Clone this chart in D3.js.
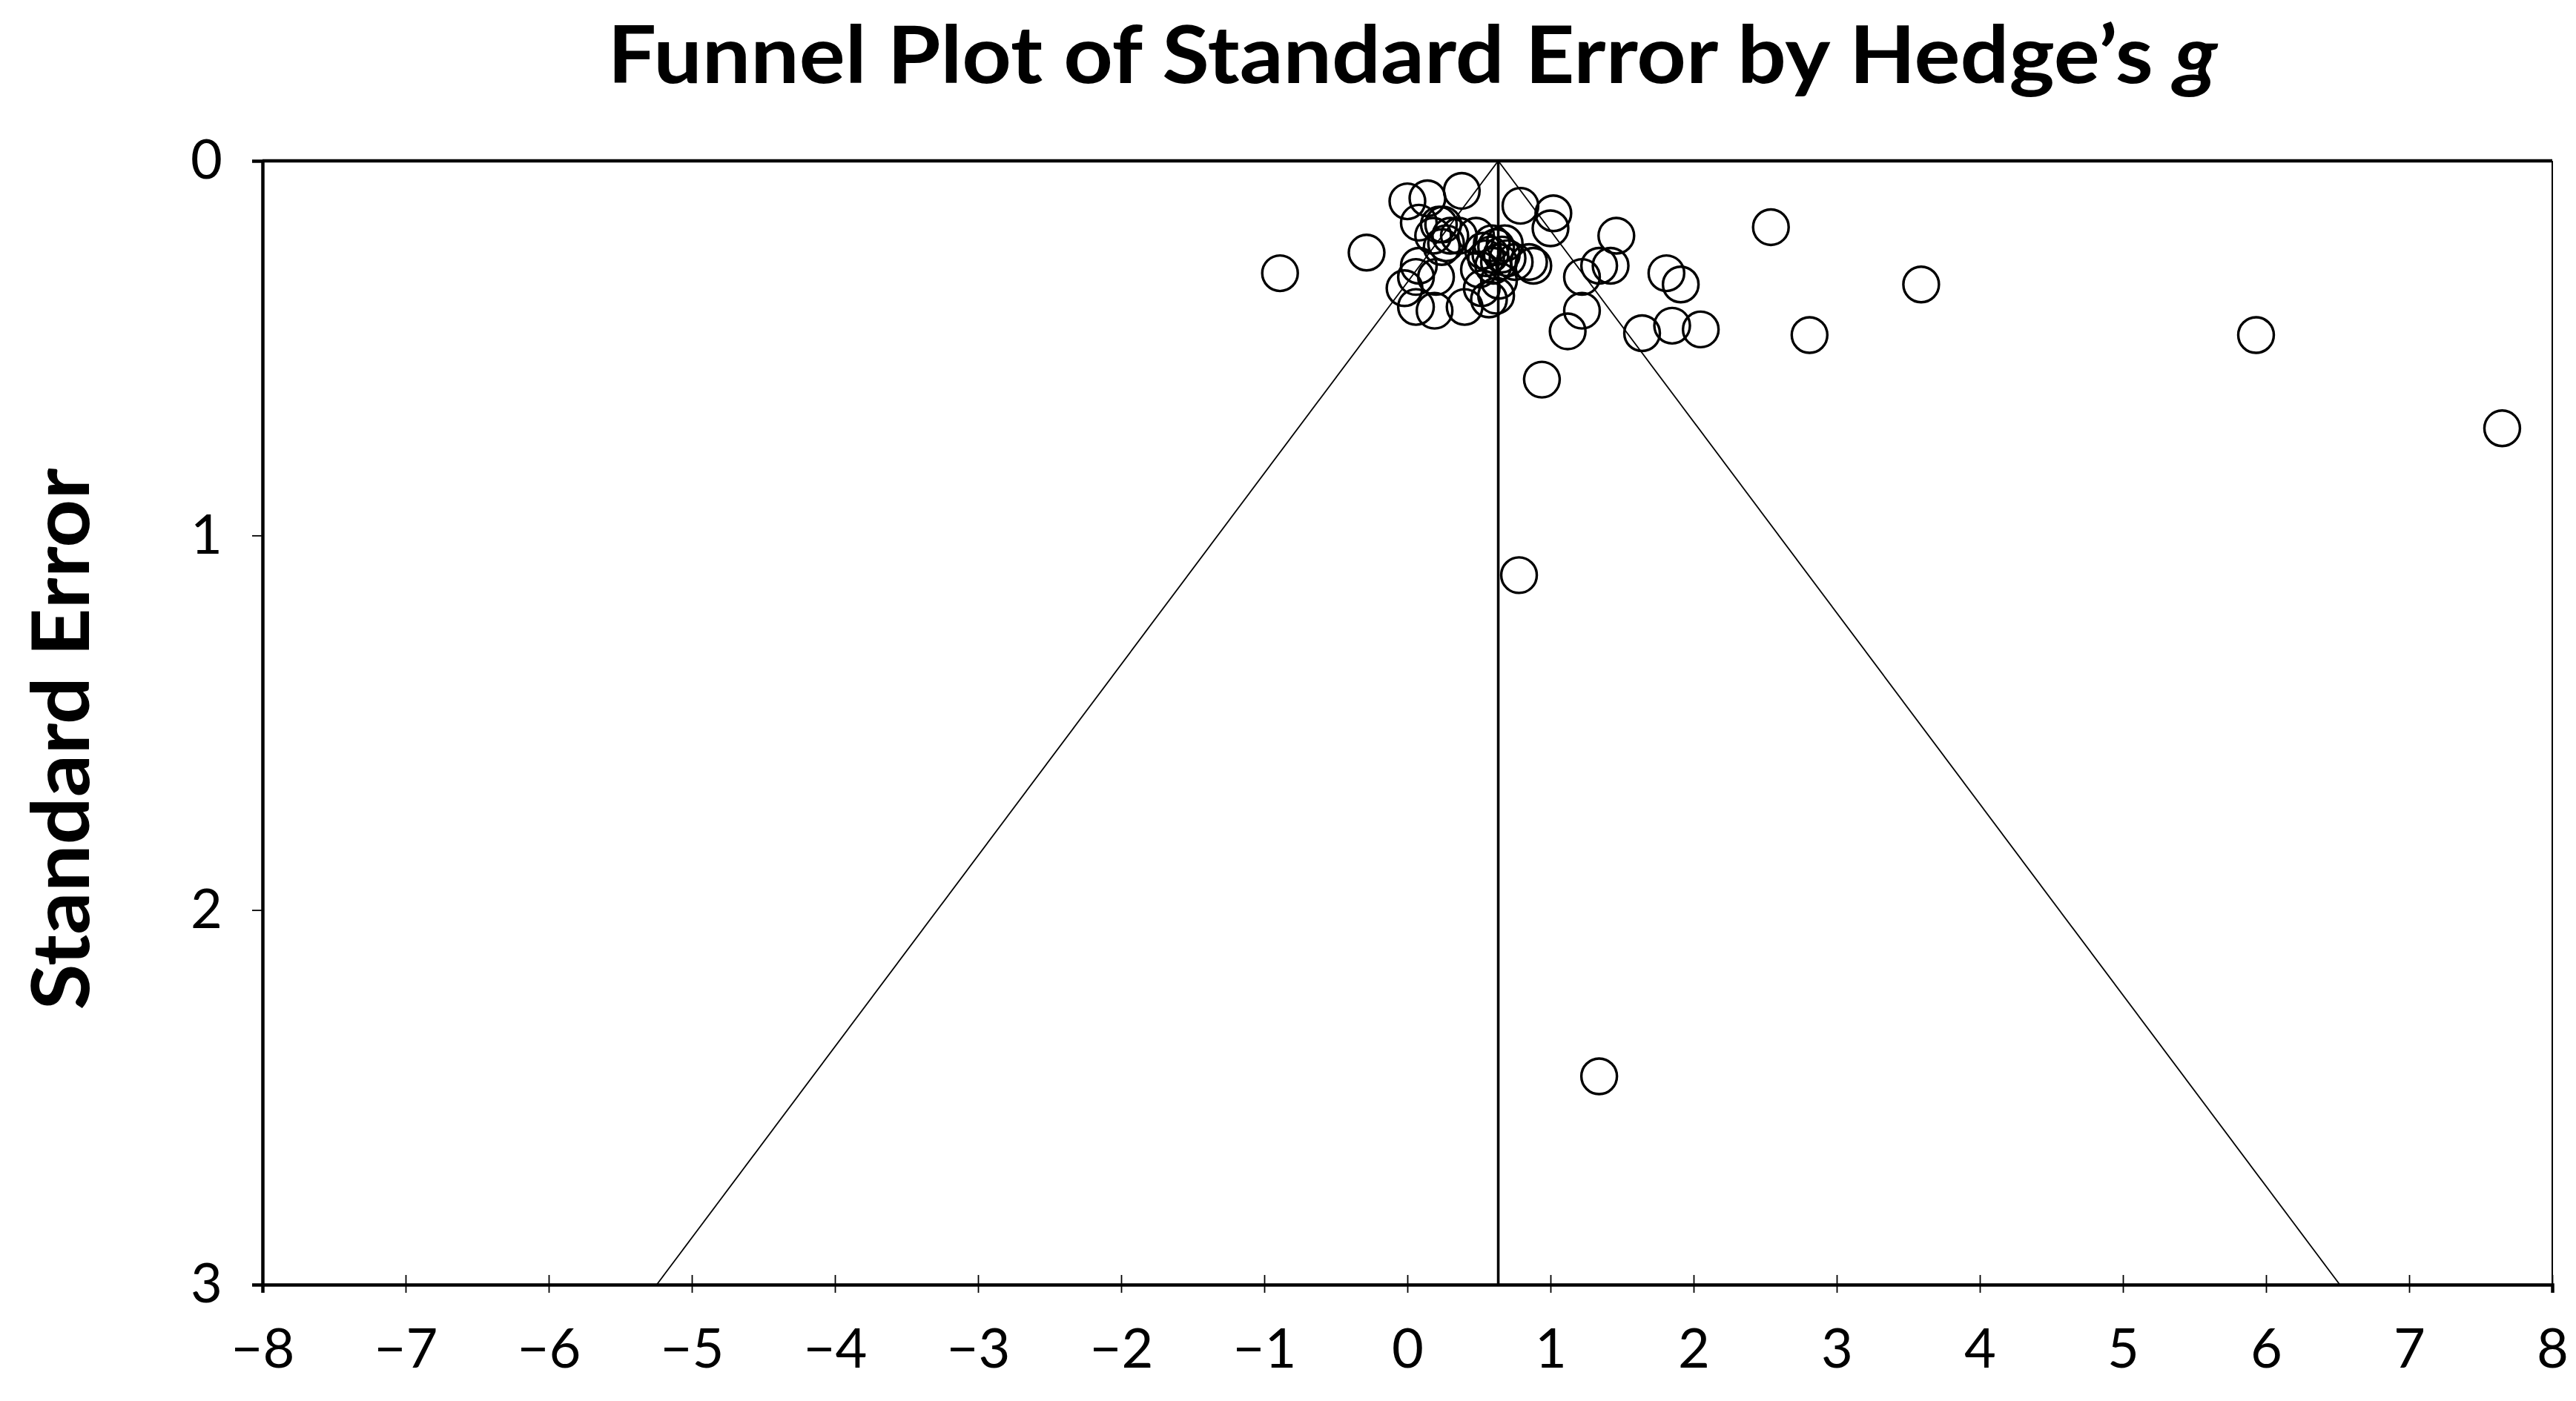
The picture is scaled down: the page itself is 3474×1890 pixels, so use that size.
<!DOCTYPE html>
<html>
<head>
<meta charset="utf-8">
<script src="https://cdn.jsdelivr.net/npm/d3@7"></script>
<style>
  html, body { margin: 0; padding: 0; background: #fff; }
  svg { display: block; }
</style>
</head>
<body>
<svg id="chart" width="3474" height="1890"></svg>
<script>
// ---- data (Hedge's g, standard error) ----
const effectSizes = [
  -0.89, -0.285, 2.54, 3.59, 5.93, 7.65, 2.81, 0.94, 0.78, 1.34,
  1.64, 1.85, 2.05, 1.81, 1.91, 1.46, 1.42, 1.34, 1.22, 1.22, 1.12,
  0.79, 1.02, 1.00, 0.88,
  0.00, 0.14, 0.38, 0.08, 0.22, 0.18, 0.27, 0.36, 0.48, 0.59, 0.68,
  0.55, 0.64, 0.50, 0.08, 0.06, 0.20, -0.02, 0.06, 0.19, 0.40, 0.57,
  0.62, 0.52, 0.64, 0.70, 0.75, 0.62, 0.85,
  0.58, 0.66, 0.60, 0.53, 0.25, 0.30, 0.24
];
const standardErrors = [
  0.30, 0.245, 0.177, 0.33, 0.465, 0.714, 0.465, 0.584, 1.106, 2.444,
  0.46, 0.44, 0.45, 0.30, 0.33, 0.20, 0.28, 0.28, 0.31, 0.40, 0.455,
  0.12, 0.14, 0.18, 0.28,
  0.108, 0.10, 0.08, 0.165, 0.17, 0.20, 0.22, 0.20, 0.20, 0.22, 0.22,
  0.26, 0.27, 0.29, 0.28, 0.31, 0.31, 0.34, 0.39, 0.40, 0.39, 0.37,
  0.36, 0.34, 0.32, 0.26, 0.27, 0.23, 0.27,
  0.25, 0.25, 0.28, 0.24, 0.17, 0.20, 0.23
];
const pooledEffect = 0.635;
const zCrit = 1.96;
const xTicks = [-8,-7,-6,-5,-4,-3,-2,-1,0,1,2,3,4,5,6,7,8];
const yTicks = [0,1,2,3];
const xDomain = [-8, 8];
const yDomain = [0, 3];

// ---- layout ----
const svg = d3.select("#chart");
const L = 354, R = 3442, T = 217, B = 1733;
const x = d3.scaleLinear().domain(xDomain).range([L, R]);
const y = d3.scaleLinear().domain(yDomain).range([T, B]);
const fmt = d => (d < 0 ? "\u2212" + Math.abs(d) : String(d));
const FONT = "Lato, 'Open Sans', 'DejaVu Sans', sans-serif";

// Title
const title = svg.append("text")
  .attr("x", 1905).attr("y", 112)
  .attr("text-anchor", "middle")
  .attr("font-family", FONT).attr("font-weight", 700)
  .attr("font-size", 108)
  .attr("textLength", 2171).attr("lengthAdjust", "spacingAndGlyphs")
  .attr("fill", "#000");
title.append("tspan").text("Funnel Plot of Standard Error by Hedge\u2019s ");
title.append("tspan").attr("font-style", "italic").text("g");

// Y axis label
svg.append("text")
  .attr("transform", "translate(120,997) rotate(-90)")
  .attr("text-anchor", "middle")
  .attr("font-family", FONT).attr("font-weight", 700)
  .attr("font-size", 108)
  .attr("textLength", 731).attr("lengthAdjust", "spacingAndGlyphs")
  .attr("fill", "#000")
  .text("Standard Error");

// Funnel lines
const funnel = svg.append("g").attr("fill", "none").attr("stroke", "#000");
funnel.append("line")
  .attr("x1", x(pooledEffect)).attr("y1", y(0))
  .attr("x2", x(pooledEffect - zCrit * yDomain[1])).attr("y2", y(yDomain[1]))
  .attr("stroke-width", 1.8);
funnel.append("line")
  .attr("x1", x(pooledEffect)).attr("y1", y(0))
  .attr("x2", x(pooledEffect + zCrit * yDomain[1])).attr("y2", y(yDomain[1]))
  .attr("stroke-width", 1.8);
funnel.append("line")
  .attr("x1", x(pooledEffect)).attr("y1", y(0))
  .attr("x2", x(pooledEffect)).attr("y2", y(yDomain[1]))
  .attr("stroke-width", 3.6);

// Points
svg.append("g")
  .selectAll("circle")
  .data(effectSizes.map((g, i) => ({ g, se: standardErrors[i] })))
  .join("circle")
  .attr("cx", d => x(d.g))
  .attr("cy", d => y(d.se))
  .attr("r", 24)
  .attr("fill", "none")
  .attr("stroke", "#000")
  .attr("stroke-width", 3.4);

// Frame
svg.append("line").attr("x1", R).attr("y1", T).attr("x2", R).attr("y2", B)
  .attr("stroke", "#000").attr("stroke-width", 2);

// X axis
const xAxis = svg.append("g")
  .attr("transform", `translate(0,${B})`)
  .call(d3.axisBottom(x).tickValues(xTicks).tickFormat(fmt).tickSize(11).tickPadding(48));
xAxis.select(".domain").attr("stroke-width", 4.5);
xAxis.selectAll(".tick line").attr("y1", -13).attr("y2", 11).attr("stroke-width", 1.8);
xAxis.selectAll(".tick text")
  .attr("font-family", FONT).attr("font-size", 74).attr("fill", "#000");

// Y axis
const yAxis = svg.append("g")
  .attr("transform", `translate(${L},0)`)
  .call(d3.axisLeft(y).tickValues(yTicks).tickFormat(fmt).tickSize(14).tickPadding(40));
yAxis.select(".domain").attr("stroke-width", 4.5);
yAxis.selectAll(".tick line").attr("stroke-width", 1.8);
yAxis.selectAll(".tick text")
  .attr("font-family", FONT).attr("font-size", 74).attr("fill", "#000");

// Top border
svg.append("line").attr("x1", L).attr("y1", T).attr("x2", R).attr("y2", T)
  .attr("stroke", "#000").attr("stroke-width", 4.5);
</script>
</body>
</html>
